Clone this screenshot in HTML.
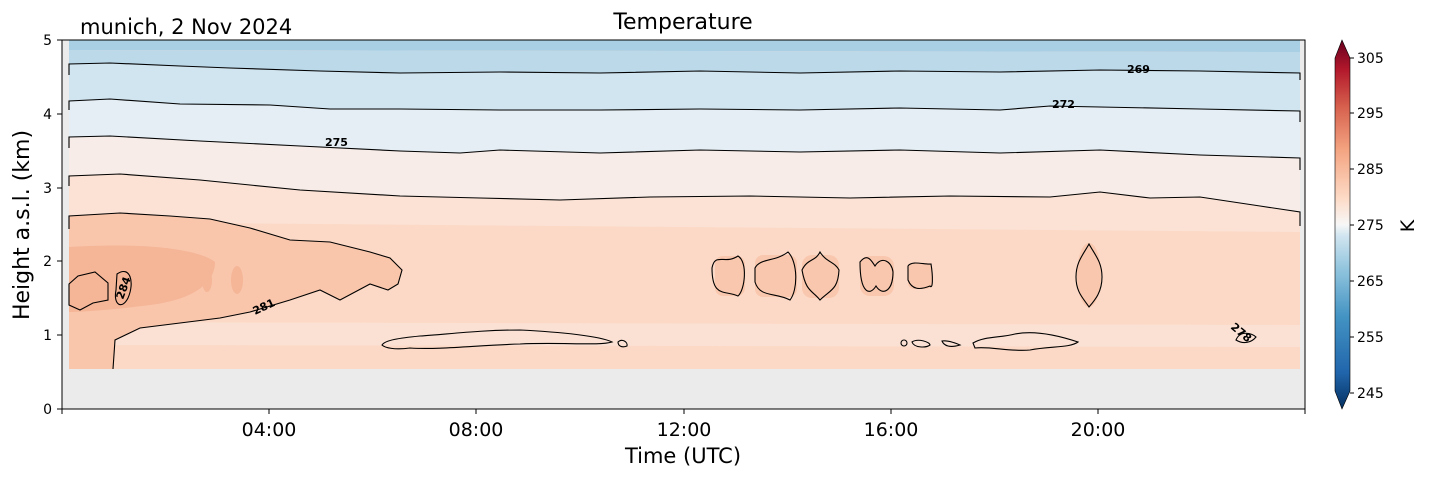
<!DOCTYPE html>
<html><head><meta charset="utf-8"><style>
body{margin:0;background:#fff;}
svg text{font-family:"DejaVu Sans","Liberation Sans",sans-serif;}
</style></head><body>
<svg width="1429" height="478" viewBox="0 0 1429 478" xmlns="http://www.w3.org/2000/svg">
<defs>
<linearGradient id="cb" x1="0" y1="1" x2="0" y2="0">
<stop offset="0" stop-color="#053061"/><stop offset="0.1" stop-color="#2166ac"/>
<stop offset="0.25" stop-color="#4393c3"/><stop offset="0.38" stop-color="#92c5de"/>
<stop offset="0.47" stop-color="#d1e5f0"/><stop offset="0.5" stop-color="#f7f7f7"/>
<stop offset="0.57" stop-color="#fddbc7"/><stop offset="0.7" stop-color="#f4a582"/>
<stop offset="0.82" stop-color="#d6604d"/><stop offset="0.92" stop-color="#b2182b"/>
<stop offset="1" stop-color="#67001f"/></linearGradient>
</defs>
<rect x="62" y="40" width="1243" height="369" fill="#ebebeb"/>
<rect x="69" y="40" width="1231" height="329" fill="#fcd9c6"/>
<polygon points="69,40 1300,40 1300,52 69,50" fill="#a9cfe4"/>
<polygon points="69,50 1300,52 1300,73 1200,71 1100,70 1000,72 900,71 800,73 700,71 600,73 500,72 400,73 320,71 230,68 180,66 110,63 69,64" fill="#bcd9ea"/>
<polygon points="69,64 110,63 180,66 230,68 320,71 400,73 500,72 600,73 700,71 800,73 900,71 1000,72 1100,70 1200,71 1300,73 1300,111 1200,109 1100,107 1050,106 1000,110 900,108 800,110 700,109 600,110 500,110 400,109 330,109 270,105 180,104 110,99 69,101" fill="#d1e5f0"/>
<polygon points="69,101 110,99 180,104 270,105 330,109 400,109 500,110 600,110 700,109 800,110 900,108 1000,110 1050,106 1100,107 1200,109 1300,111 1300,158 1200,155 1100,150 1000,153 900,150 800,152 700,150 600,153 500,150 460,153 400,151 300,146 200,141 110,136 69,137" fill="#e4eef4"/>
<polygon points="69,137 110,136 200,141 300,146 400,151 460,153 500,150 600,153 700,150 800,152 900,150 1000,153 1100,150 1200,155 1300,158 1300,212 1260,206 1200,197 1150,198 1100,192 1050,197 950,196 850,198 750,196 650,197 560,200 480,198 400,196 300,190 200,180 120,174 69,176" fill="#f7ece7"/>
<polygon points="69,176 120,174 200,180 300,190 400,196 480,198 560,200 650,197 750,196 850,198 950,196 1050,197 1100,192 1150,198 1200,197 1260,206 1300,212 1300,232 69,222" fill="#fbe2d5"/>
<polygon points="69,322 1300,325 1300,347 69,345" fill="#fbe1d4"/>
<path d="M69,216 L120,213 L170,216 L210,219 L250,228 L290,240 L330,242 L370,252 L390,258 L402,270 L398,284 L388,290 L370,284 L340,300 L320,290 L290,300 L250,312 L220,318 L180,323 L140,328 L115,340 L113,369 L69,369 Z" fill="#f9c6ac"/>
<path d="M69,247 C150,242 200,250 215,262 C215,285 190,300 150,305 C110,310 80,312 69,312 Z" fill="#f5b597"/>
<ellipse cx="237" cy="280" rx="6" ry="14" fill="#f5b597"/>
<ellipse cx="207" cy="280" rx="5" ry="12" fill="#f5b597"/>
<g fill="#f9c7ad">
<rect x="715" y="256" width="30" height="40" rx="8"/><rect x="755" y="255" width="42" height="42" rx="8"/>
<rect x="802" y="255" width="37" height="43" rx="10"/>
<rect x="860" y="256" width="34" height="40" rx="10"/><rect x="908" y="263" width="24" height="26" rx="6"/>
<ellipse cx="1089" cy="275" rx="12" ry="32"/>
</g>
<g fill="none" stroke="#000" stroke-width="1.1">
<path d="M69,75 L69,64 L110,63 L180,66 L230,68 L320,71 L400,73 L500,72 L600,73 L700,71 L800,73 L900,71 L1000,72 L1100,70 L1200,71 L1300,73 L1300,80"/>
<path d="M69,110 L69,101 L110,99 L180,104 L270,105 L330,109 L400,109 L500,110 L600,110 L700,109 L800,110 L900,108 L1000,110 L1050,106 L1100,107 L1200,109 L1300,111 L1300,122"/>
<path d="M69,148 L69,137 L110,136 L200,141 L300,146 L400,151 L460,153 L500,150 L600,153 L700,150 L800,152 L900,150 L1000,153 L1100,150 L1200,155 L1300,158 L1300,170"/>
<path d="M69,186 L69,176 L120,174 L200,180 L300,190 L400,196 L480,198 L560,200 L650,197 L750,196 L850,198 L950,196 L1050,197 L1100,192 L1150,198 L1200,197 L1260,206 L1300,212 L1300,226"/>
<path d="M69,229 L69,216 L120,213 L170,216 L210,219 L250,228 L290,240 L330,242 L370,252 L390,258 L402,270 L398,284 L388,290 L370,284 L340,300 L320,290 L290,300 L250,312 L220,318 L180,323 L140,328 L115,340 L113,369"/>
<path d="M69,284 L78,276 L95,272 L108,283 L108,300 L93,303 L80,310 L69,305 Z"/>
<path d="M117,274 C130,265 135,282 128,298 C122,310 113,305 116,290 Z"/>
<path d="M712,268 C715,252 725,265 738,256 C748,262 745,290 738,296 C725,290 712,298 712,268 Z"/>
<path d="M755,268 C760,258 775,262 788,252 C798,262 798,290 790,300 C775,292 760,298 755,282 Z"/>
<path d="M802,270 C808,258 815,262 820,252 C826,262 835,262 839,270 C838,290 830,290 820,300 C812,290 806,292 802,270 Z"/>
<path d="M860,262 C868,252 872,262 875,266 C882,255 892,262 893,272 C893,292 882,296 876,286 C870,296 860,294 860,262 Z"/>
<path d="M908,266 C912,260 925,265 931,264 C933,276 933,290 930,286 C920,290 912,290 908,280 Z"/>
<path d="M1089,244 C1095,255 1102,262 1102,277 C1102,292 1095,300 1089,307 C1083,298 1076,292 1076,277 C1076,262 1083,255 1089,244 Z"/>
<path d="M382,345 C385,340 400,338 420,336 C450,334 480,330 520,330 C560,332 600,336 612,342 C600,346 560,342 520,344 C480,345 440,350 410,348 C395,350 385,348 382,345 Z"/>
<path d="M618,342 C622,338 628,342 627,346 C622,348 618,346 618,342 Z"/>
<ellipse cx="904" cy="343" rx="3" ry="3"/><path d="M912,342 C918,338 930,342 930,345 C926,348 914,348 912,342 Z"/>
<path d="M942,341 C948,340 958,344 960,345 C950,348 944,346 942,341 Z"/>
<path d="M973,343 C985,336 1000,338 1015,334 C1035,330 1060,336 1078,342 C1070,348 1050,346 1030,350 C1010,352 990,346 975,348 Z"/>
<path d="M1236,340 C1240,330 1252,333 1256,337 C1252,342 1244,345 1236,340 Z"/>
</g>
<g font-size="11" font-weight="bold" fill="#000">
<text x="325" y="146">275</text>
<text x="1052" y="108">272</text>
<text x="1127" y="73">269</text>
<text x="255" y="315" transform="rotate(-25 255 315)">281</text>
<text x="123" y="300" transform="rotate(-70 123 300)">284</text>
<text x="1230" y="328" transform="rotate(40 1230 328)">278</text>
</g>
<rect x="62" y="40" width="1243" height="369" fill="none" stroke="#000" stroke-width="1"/>
<g stroke="#000" stroke-width="1">
<line x1="57" y1="40" x2="62" y2="40"/><line x1="57" y1="114" x2="62" y2="114"/>
<line x1="57" y1="188" x2="62" y2="188"/><line x1="57" y1="261" x2="62" y2="261"/>
<line x1="57" y1="335" x2="62" y2="335"/><line x1="57" y1="409" x2="62" y2="409"/>
<line x1="62" y1="409" x2="62" y2="414"/><line x1="269" y1="409" x2="269" y2="414"/>
<line x1="476" y1="409" x2="476" y2="414"/><line x1="684" y1="409" x2="684" y2="414"/>
<line x1="891" y1="409" x2="891" y2="414"/><line x1="1098" y1="409" x2="1098" y2="414"/>
<line x1="1305" y1="409" x2="1305" y2="414"/>
</g>
<g font-size="14" fill="#000" text-anchor="end">
<text x="52" y="45">5</text><text x="52" y="119">4</text><text x="52" y="193">3</text>
<text x="52" y="266">2</text><text x="52" y="340">1</text><text x="52" y="414">0</text>
</g>
<g font-size="19" fill="#000" text-anchor="middle">
<text x="269" y="436">04:00</text><text x="476" y="436">08:00</text><text x="684" y="436">12:00</text>
<text x="891" y="436">16:00</text><text x="1098" y="436">20:00</text>
<text x="683" y="463" font-size="21">Time (UTC)</text>
<text x="683" y="29" font-size="22">Temperature</text>
<text x="29" y="225" font-size="22" transform="rotate(-90 29 225)">Height a.s.l. (km)</text>
</g>
<text x="80" y="34" font-size="21" fill="#000">munich, 2 Nov 2024</text>
<polygon points="1335,58 1342,40 1350,58 1350,391 1342,409 1335,391" fill="url(#cb)"/>
<polygon points="1335,58 1342,40 1350,58 1350,391 1342,409 1335,391" fill="none" stroke="#000" stroke-width="0.6"/>
<g stroke="#000" stroke-width="1">
<line x1="1350" y1="58" x2="1354" y2="58"/><line x1="1350" y1="113" x2="1354" y2="113"/>
<line x1="1350" y1="169" x2="1354" y2="169"/><line x1="1350" y1="225" x2="1354" y2="225"/>
<line x1="1350" y1="281" x2="1354" y2="281"/><line x1="1350" y1="337" x2="1354" y2="337"/>
<line x1="1350" y1="393" x2="1354" y2="393"/>
</g>
<g font-size="14" fill="#000">
<text x="1357" y="63">305</text><text x="1357" y="118">295</text><text x="1357" y="174">285</text>
<text x="1357" y="230">275</text><text x="1357" y="286">265</text><text x="1357" y="342">255</text>
<text x="1357" y="398">245</text>
</g>
<text x="1414" y="226" font-size="19" fill="#000" text-anchor="middle" transform="rotate(-90 1414 226)">K</text>
</svg>
</body></html>
